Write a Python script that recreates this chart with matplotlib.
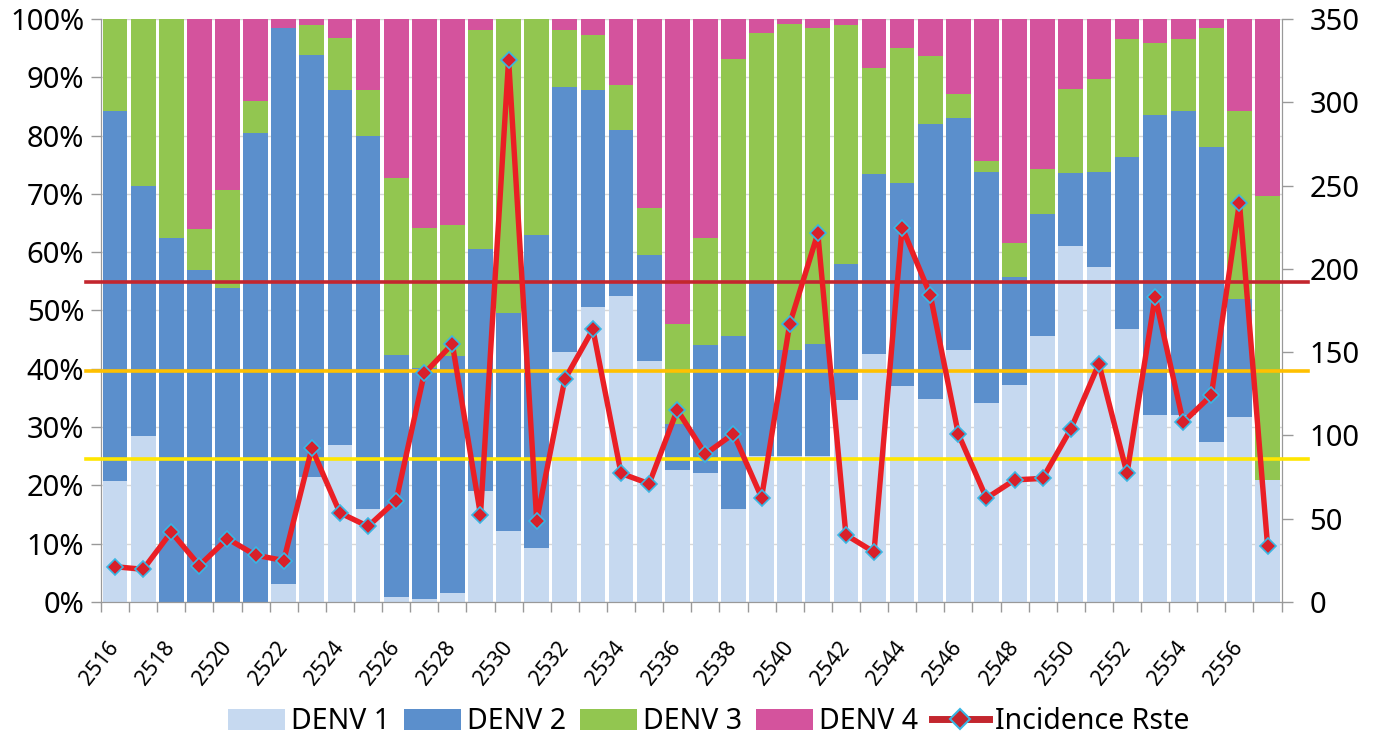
import matplotlib
matplotlib.use("Agg")
import matplotlib.pyplot as plt
from matplotlib.lines import Line2D
from matplotlib.patches import Patch
from matplotlib.ticker import FuncFormatter, MultipleLocator, FixedLocator
import numpy as np

plt.rcParams['font.family'] = ['Noto Sans', 'DejaVu Sans']

years = list(range(2516, 2558))

denv1 = [20.8, 28.5, 0, 0, 0, 0, 3.0, 21.4, 27.0, 15.9, 0.9, 0.5,
         1.6, 19.1, 12.2, 9.2, 42.8, 50.6, 52.5, 41.4, 22.7, 22.1, 15.9, 25.0,
         25.0, 25.0, 34.6, 42.5, 37.0, 34.9, 43.3, 34.1, 37.2, 45.7, 61.1,
         57.4, 46.9, 32.1, 32.1, 27.5, 31.8, 20.9]
denv2 = [63.4, 42.8, 62.4, 57.0, 53.8, 80.4, 95.4, 72.5, 60.9, 64.0, 41.4, 39.7,
         40.6, 41.4, 37.3, 53.7, 45.5, 37.3, 28.5, 18.2, 7.9, 21.9, 29.7, 29.7,
         18.3, 19.3, 23.4, 31.0, 34.8, 47.1, 39.8, 39.7, 18.5, 20.8, 12.5,
         16.4, 29.5, 51.4, 52.1, 50.6, 20.1, 0]
denv3 = [15.8, 28.7, 37.6, 7.0, 16.9, 5.5, 0, 5.1, 8.9, 8.0, 30.4, 23.9,
         22.4, 37.7, 50.5, 37.1, 9.9, 9.3, 7.7, 7.9, 17.0, 18.5, 47.6, 42.9,
         55.8, 54.2, 40.9, 18.1, 23.3, 11.7, 4.1, 1.8, 5.8, 7.8, 14.4,
         15.9, 20.1, 12.3, 12.3, 20.3, 32.3, 48.7]
denv4 = [0, 0, 0, 36.0, 29.3, 14.1, 1.6, 1.0, 3.2, 12.1, 27.3, 35.9,
         35.4, 1.8, 0, 0, 1.8, 2.8, 11.3, 32.5, 52.4, 37.5, 6.8, 2.4,
         0.9, 1.5, 1.1, 8.4, 4.9, 6.3, 12.8, 24.4, 38.5, 25.7, 12.0,
         10.3, 3.5, 4.2, 3.5, 1.6, 15.8, 30.4]
incidence = [21.2, 19.6, 42.0, 21.9, 38.0, 28.1, 24.9, 92.2, 53.5, 45.4, 60.9, 137.2,
             154.9, 52.3, 325.6, 48.9, 133.7, 163.7, 77.2, 71.0, 115.3, 88.8, 101.0, 62.7,
             166.9, 221.3, 40.3, 30.0, 224.8, 184.5, 100.8, 62.3, 73.3, 74.2, 103.8,
             143.0, 77.2, 183.3, 107.9, 124.0, 239.8, 33.9]
ref_levels = [192.3, 138.5, 86.0]
ref_colors = ['#C3262E', '#FFC000', '#FFE600']

series = [("DENV 1", denv1, '#C6D9F0'),
          ("DENV 2", denv2, '#5B8FCC'),
          ("DENV 3", denv3, '#92C650'),
          ("DENV 4", denv4, '#D4539D')]

fig = plt.figure(figsize=(13.76, 7.37), dpi=100)
ax = fig.add_axes([0.0734, 0.1832, 0.858, 0.791])
x = np.arange(len(years))
bottom = np.zeros(len(years))
for name, vals, col in series:
    v = np.array(vals, dtype=float)
    ax.bar(x, v, bottom=bottom, width=0.88, color=col, label=name, zorder=2)
    bottom += v

ax.set_xlim(-0.5, len(years) - 0.5)
ax.set_ylim(0, 100)
ax.yaxis.set_major_locator(MultipleLocator(10))
ax.yaxis.set_major_formatter(FuncFormatter(lambda v, p: f"{int(round(v))}%"))
ax.grid(axis='y', color='#D8D8D8', lw=1, zorder=0)
ax.set_axisbelow(True)

label_idx = [i for i, y in enumerate(years) if y % 2 == 0]
ax.xaxis.set_major_locator(FixedLocator(label_idx))
ax.set_xticklabels([str(years[i]) for i in label_idx], rotation=52,
                   ha='right', va='center', rotation_mode='anchor', fontsize=15.5)
ax.xaxis.set_minor_locator(FixedLocator(np.arange(-0.5, len(years), 1.0)))
ax.tick_params(axis='x', which='major', length=0, pad=30)
ax.tick_params(axis='x', which='minor', length=7, color='#999999', width=1)
ax.tick_params(axis='y', length=7, color='#999999', width=1, labelsize=21, pad=5)

ax.spines['top'].set_visible(False)
for s in ['left', 'bottom', 'right']:
    ax.spines[s].set_color('#999999')

ax2 = ax.twinx()
ax2.set_ylim(0, 350)
ax2.yaxis.set_major_locator(MultipleLocator(50))
ax2.tick_params(axis='y', length=8, color='#999999', width=1, labelsize=21, pad=12)
ax2.spines['top'].set_visible(False)
for s in ['left', 'bottom', 'right']:
    ax2.spines[s].set_color('#999999')

for lvl, col in zip(ref_levels, ref_colors):
    ax2.axhline(lvl, xmin=-0.013, xmax=1.022, color=col, lw=2.6, clip_on=False, zorder=3)

ax2.plot(x, incidence, color='#EA1F25', lw=3.9, marker='D', markersize=8,
         markerfacecolor='#D8202A', markeredgecolor='#39B6E3', markeredgewidth=1.2,
         zorder=5, solid_joinstyle='round')

handles = [Patch(facecolor=c, label=n) for n, _, c in series]
handles.append(Line2D([], [], color='#C3262E', lw=5, marker='D', markersize=10,
                      markerfacecolor='#C3262E', markeredgecolor='#39B6E3',
                      markeredgewidth=1.5, label='Incidence Rste'))
fig.legend(handles=handles, loc='center', bbox_to_anchor=(0.515, 0.021), ncol=5,
           frameon=False, fontsize=20.5, handlelength=2.0, handleheight=0.75,
           handletextpad=0.2, columnspacing=0.5)

fig.savefig('out.png', dpi=100)
